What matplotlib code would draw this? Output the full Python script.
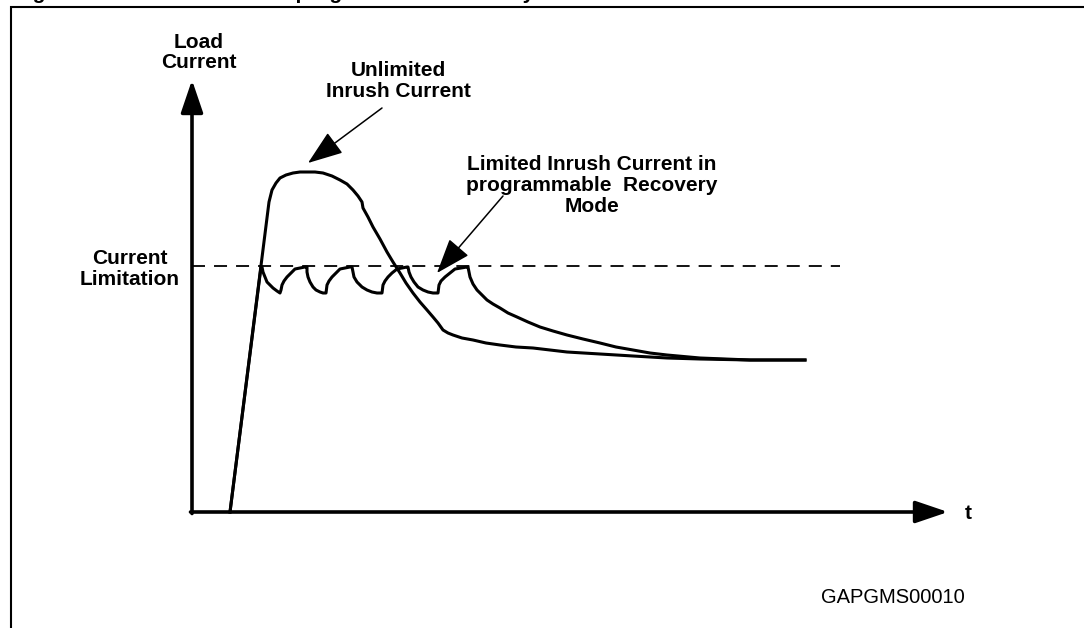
import matplotlib
matplotlib.use("Agg")
import matplotlib.pyplot as plt

# time / current in arbitrary units (origin at axis corner)
unlimited_t = [3.8, 7.7, 8.0, 8.4, 8.8, 9.4, 10.1, 10.8, 11.5, 12.3, 13.1, 14.0, 14.8,
               15.5, 16.1, 16.6, 17.0, 17.1, 17.6, 18.1, 18.8, 19.5, 20.1, 20.8, 21.4,
               22.1, 22.8, 23.5, 24.1, 24.6, 25.1, 25.6, 26.1, 27.0, 28.1, 29.4, 30.8,
               32.4, 34.1, 35.8, 37.5, 40.8, 44.1, 47.5, 50.8, 55.8, 61.3]
unlimited_i = [0.0, 31.0, 32.2, 32.9, 33.4, 33.7, 33.9, 34.0, 34.0, 34.0, 33.9, 33.6, 33.2,
               32.8, 32.2, 31.6, 31.0, 30.4, 29.5, 28.5, 27.3, 26.0, 25.0, 23.9, 22.9,
               21.9, 21.0, 20.2, 19.5, 18.9, 18.2, 17.9, 17.7, 17.4, 17.2, 16.9, 16.7,
               16.5, 16.4, 16.2, 16.0, 15.8, 15.6, 15.4, 15.3, 15.2, 15.2]

limited_t = [3.8, 6.9,
             7.0, 7.1, 7.3, 7.5, 7.8, 8.1, 8.5, 8.8,
             8.9, 9.0, 9.2, 9.5, 9.9, 10.3, 10.8, 11.3,
             11.5, 11.5, 11.6, 11.8, 12.1, 12.4, 12.8, 13.1, 13.4,
             13.5, 13.7, 14.0, 14.4, 14.8, 15.3, 15.8,
             16.0, 16.1, 16.2, 16.5, 17.0, 17.5, 18.0, 18.5, 19.0,
             19.1, 19.3, 19.6, 20.0, 20.5, 21.0, 21.5,
             21.6, 21.7, 21.9, 22.2, 22.6, 23.1, 23.6, 24.1, 24.6,
             24.7, 24.9, 25.3, 25.8, 26.3, 26.9, 27.5,
             27.6, 27.7, 27.8, 28.1, 28.5, 29.0, 29.5, 30.1, 30.8, 31.6, 32.5,
             33.6, 34.8, 36.1, 37.5, 39.1, 40.8, 42.4, 44.1, 45.8, 47.5, 50.8,
             55.8, 61.3]
limited_i = [0.0, 24.5,
             24.5, 24.0, 23.5, 23.0, 22.7, 22.4, 22.1, 21.9,
             22.2, 22.7, 23.1, 23.5, 23.9, 24.3, 24.4, 24.5,
             24.5, 24.0, 23.5, 23.0, 22.5, 22.2, 22.0, 21.9, 21.9,
             22.7, 23.1, 23.5, 23.9, 24.3, 24.4, 24.5,
             24.5, 24.0, 23.5, 23.0, 22.5, 22.2, 22.0, 21.9, 21.9,
             22.7, 23.1, 23.5, 23.9, 24.3, 24.4, 24.5,
             24.5, 24.0, 23.5, 23.0, 22.5, 22.2, 22.0, 21.9, 21.9,
             22.7, 23.1, 23.5, 23.9, 24.3, 24.4, 24.5,
             24.5, 24.0, 23.5, 22.8, 22.2, 21.7, 21.2, 20.8, 20.4, 19.9, 19.5,
             19.0, 18.5, 18.1, 17.7, 17.3, 16.9, 16.5, 16.2, 15.9, 15.7, 15.4,
             15.2, 15.2]

current_limit = 24.6
limit_end = 64.8
t_axis_max = 75.6
i_axis_max = 43.2

title = "Figure 9.    Inrush current in programmable recovery mode"
fig_id = "GAPGMS00010"


def px(x, y):
    """pixel position of the sketch -> data units"""
    return (x - 192) / 10.0, (512 - y) / 10.0


def main():
    plt.rcParams['font.family'] = ['Liberation Sans', 'DejaVu Sans']
    fig = plt.figure(figsize=(10.84, 6.28), dpi=100)
    ax = fig.add_axes([0, 0, 1, 1])
    ax.set_xlim(-19.2, 89.2)
    ax.set_ylim(-11.6, 51.2)
    ax.axis('off')

    # frame (cut at right and bottom), title cut at the top edge
    fx, fy = px(11, 6.5)
    ax.plot([fx, fx, 100], [-20, fy, fy], color='black', lw=1.5, solid_joinstyle='miter')
    ax.text(*px(14, -1), title, fontsize=15, fontweight='bold', ha='left', va='baseline')

    # axes with arrows
    arrow_kw = dict(arrowstyle='-|>,head_length=1.0,head_width=0.34', color='black',
                    lw=2.6, mutation_scale=20, shrinkA=0, shrinkB=0)
    ax.annotate('', xy=(0, i_axis_max), xytext=(0, -0.15), arrowprops=arrow_kw)
    ax.annotate('', xy=(t_axis_max, 0), xytext=(-0.15, 0), arrowprops=arrow_kw)

    # current limitation level
    ax.plot([0, limit_end], [current_limit, current_limit], color='black', lw=1.3,
            dashes=(7.2, 5.0))

    ax.plot(unlimited_t, unlimited_i, color='black', lw=2.2, solid_joinstyle='round')
    ax.plot(limited_t, limited_i, color='black', lw=2.2, solid_joinstyle='round')

    # callouts
    call_kw = dict(arrowstyle='-|>,head_length=1.1,head_width=0.4', color='black',
                   lw=1.1, mutation_scale=20, shrinkA=0, shrinkB=0)
    ax.annotate('', xy=px(308, 163), xytext=px(382, 108), arrowprops=call_kw)
    ax.annotate('', xy=px(437, 273), xytext=px(503, 196), arrowprops=call_kw)

    bold = dict(fontsize=15, fontweight='bold', ha='center', va='baseline',
                multialignment='center')
    ax.text(*px(199, 68), "Load\nCurrent", linespacing=1.05, **bold)
    ax.text(*px(398, 97), "Unlimited\nInrush Current", linespacing=1.15, **bold)
    ax.text(*px(592, 212), "Limited Inrush Current in\nprogrammable  Recovery\nMode",
            linespacing=1.15, **bold)
    ax.text(*px(130, 285), "Current\nLimitation", linespacing=1.15, **bold)
    ax.text(*px(965, 519), "t", fontsize=15, fontweight='bold', ha='left', va='baseline')
    ax.text(*px(965, 603), fig_id, fontsize=14.5, ha='right', va='baseline')

    fig.savefig('out.png', dpi=100)


if __name__ == "__main__":
    main()
